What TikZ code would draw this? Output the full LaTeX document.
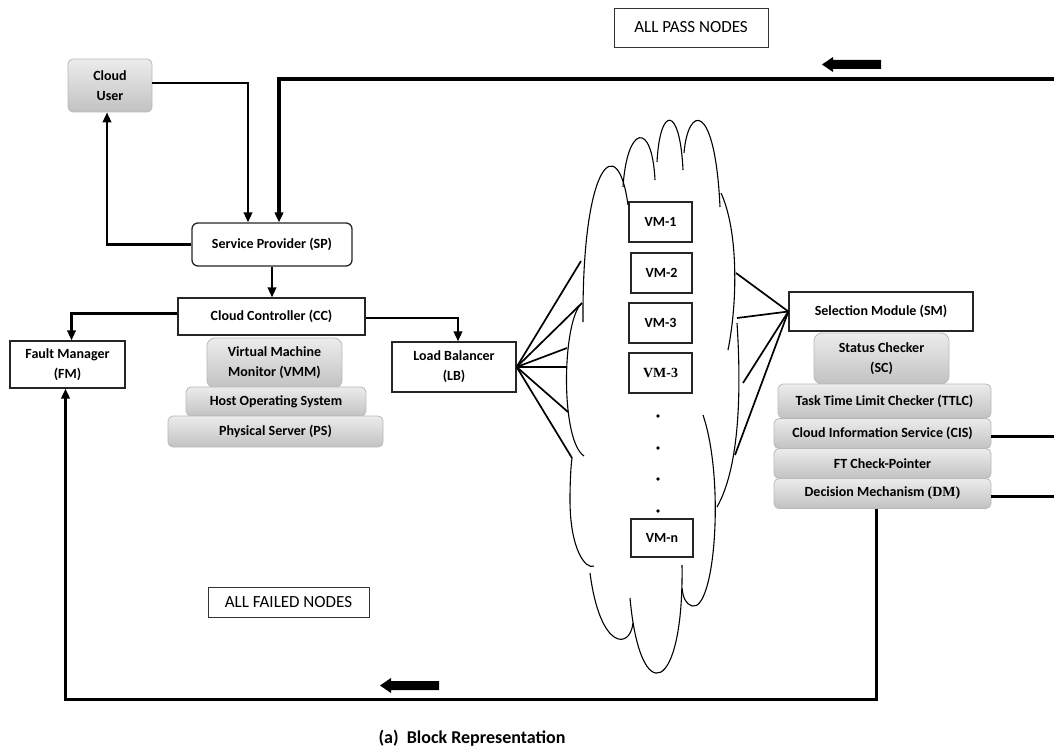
\documentclass[tikz,border=0pt]{standalone}
\usepackage{fontspec}
\setmainfont{Carlito}
\newfontfamily\timesb{Liberation Serif}
\usetikzlibrary{arrows.meta}
\begin{document}
\begin{tikzpicture}[x=1pt,y=-1pt,
 every node/.style={font=\fontsize{14}{20}\selectfont\bfseries},
 box/.style={draw=black!85, line width=1.3pt, fill=white, inner sep=0pt, align=center},
 gbox/.style={draw=gray!55, line width=0.8pt, rounded corners=5pt, top color=gray!15, bottom color=gray!48, inner sep=0pt, align=center},
 lbl/.style={draw=black!80, line width=0.9pt, inner sep=0pt, font=\fontsize{17}{20}\selectfont},
 conn/.style={line width=2.2pt, draw=black},
 thick conn/.style={line width=3pt, draw=black},
 tip/.style={-{Triangle[length=10pt,width=8.5pt]}},
 fan/.style={line width=1.7pt},
 cloudline/.style={line width=1.1pt}]
\useasboundingbox (0,0) rectangle (1054,749);
% ---------- left nodes ----------
\node[gbox, minimum width=84pt, minimum height=53pt] (cu) at (110,85.5) {Cloud\\User};
\node[box, rounded corners=6pt, minimum width=160pt, minimum height=43pt] (sp) at (272,244.5) {Service Provider (SP)};
\node[box, minimum width=187pt, minimum height=37pt] (cc) at (271.5,316.5) {Cloud Controller (CC)};
\node[box, minimum width=115pt, minimum height=47pt] (fm) at (67.5,364.5) {Fault Manager\\(FM)};
\node[box, minimum width=124pt, minimum height=50pt] (lb) at (454,367) {Load Balancer\\(LB)};
\node[gbox, rounded corners=8pt, minimum width=135pt, minimum height=50pt] (vmm) at (274.5,363) {Virtual Machine\\Monitor (VMM)};
\node[gbox, minimum width=180pt, minimum height=29pt] (hos) at (276,401.5) {Host Operating System};
\node[gbox, minimum width=215pt, minimum height=31pt] (ps) at (275.5,431.5) {Physical Server (PS)};
% ---------- VMs ----------
\node[box, minimum width=63pt, minimum height=40pt] (vm1) at (660.5,222) {VM-1};
\node[box, minimum width=61pt, minimum height=40pt] (vm2) at (661.5,273) {VM-2};
\node[box, minimum width=63pt, minimum height=40pt] (vm3) at (660.5,323) {VM-3};
\node[box, minimum width=63pt, minimum height=40pt] (vm3b) at (660.5,373) {\timesb VM-3};
\node[box, minimum width=62pt, minimum height=38pt] (vmn) at (662,538) {VM-n};
\foreach \yy in {416,448,479,511} \fill (658,\yy) circle (1.8pt);
% ---------- right nodes ----------
\node[box, minimum width=184pt, minimum height=39pt] (sm) at (881,311.5) {Selection Module (SM)};
\node[gbox, rounded corners=8pt, minimum width=135pt, minimum height=51pt] (sc) at (881.5,358.5) {Status Checker\\(SC)};
\node[gbox, minimum width=213pt, minimum height=34pt] (ttlc) at (884.5,401) {Task Time Limit Checker (TTLC)};
\node[gbox, minimum width=217pt, minimum height=30pt] (cis) at (882.5,433.5) {Cloud Information Service (CIS)};
\node[gbox, minimum width=217pt, minimum height=30pt] (ft) at (882.5,463.5) {FT Check-Pointer};
\node[gbox, minimum width=217pt, minimum height=30pt] (dm) at (882.5,493.5) {Decision Mechanism {\timesb (DM)}};
% ---------- labels ----------
\node[lbl, minimum width=154pt, minimum height=39pt] (pass) at (691,27.5) {ALL PASS NODES};
\node[lbl, minimum width=161pt, minimum height=30pt] (fail) at (288.5,602) {ALL FAILED NODES};
\node[font=\fontsize{18}{20}\selectfont\bfseries] (cap) at (472,738) {(a)\ \ Block Representation};
% ---------- cloud ----------
\begin{scope}[cloudline]
\draw (583,322) .. controls (582,160) and (618,130) .. (628,205);
\draw (623,187) .. controls (627,125) and (652,120) .. (655,180);
\draw (657,162) .. controls (660,105) and (680,105) .. (683,170);
\draw (684,153) .. controls (688,105) and (715,100) .. (720,207);
\draw (721,193) .. controls (738,230) and (738,300) .. (728,350);
\draw (737,323) .. controls (742,400) and (738,470) .. (717,507);
\draw (703,415) .. controls (725,480) and (715,612) .. (692,606) .. controls (686,604) and (683,598) .. (682,588);
\draw (682,565) .. controls (684,695) and (640,710) .. (630,598);
\draw (633,623) .. controls (630,650) and (600,650) .. (590,573);
\draw (594,566) .. controls (586,570) and (570,550) .. (570,500) .. controls (570,480) and (571,465) .. (572,458);
\draw (582,303) .. controls (562,320) and (560,440) .. (584,456);
\end{scope}
% ---------- connectors ----------
\coordinate (passR) at (1054,79);
\coordinate (cisR) at (1054,436);
\coordinate (dmR) at (1054,496);
\coordinate (bot) at (876,699);
\draw[conn,tip] ([yshift=2.5pt]cu.east) -| ([xshift=-24pt]sp.north);
\draw[thick conn,line width=3.6pt,tip] (passR) -| ([xshift=7pt]sp.north);
\draw[conn,tip] (sp.west) -| ([xshift=-3pt]cu.south);
\draw[conn,tip] (sp.south) -- (sp.south |- cc.north);
\draw[conn,tip] ([yshift=3pt]cc.west) -| ([xshift=4pt]fm.north);
\draw[conn,tip] ([yshift=-1.5pt]cc.east) -| ([xshift=4pt]lb.north);
\draw[thick conn] ([yshift=-2.5pt]cis.east) -- (cisR);
\draw[thick conn] ([yshift=-2.5pt]dm.east) -- (dmR);
\draw[thick conn,tip] ([xshift=-6pt]dm.south) |- (bot) -| ([xshift=-2pt]fm.south);
% fans
\foreach \p in {(581,261),(582,303),(567,348),(567,367),(568,412),(572,458)}
  \draw[fan] (lb.east) -- \p;
\foreach \p in {(736,273),(737,318),(743,383),(735,455)}
  \draw[fan] (sm.west) -- \p;
% block arrows
\fill (881,60) -- (833,60) -- (833,57) -- (822,64.5) -- (833,72) -- (833,69) -- (881,69) -- cycle;
\fill (439,681) -- (391,681) -- (391,678) -- (380,685.5) -- (391,693) -- (391,690) -- (439,690) -- cycle;
\end{tikzpicture}
\end{document}
